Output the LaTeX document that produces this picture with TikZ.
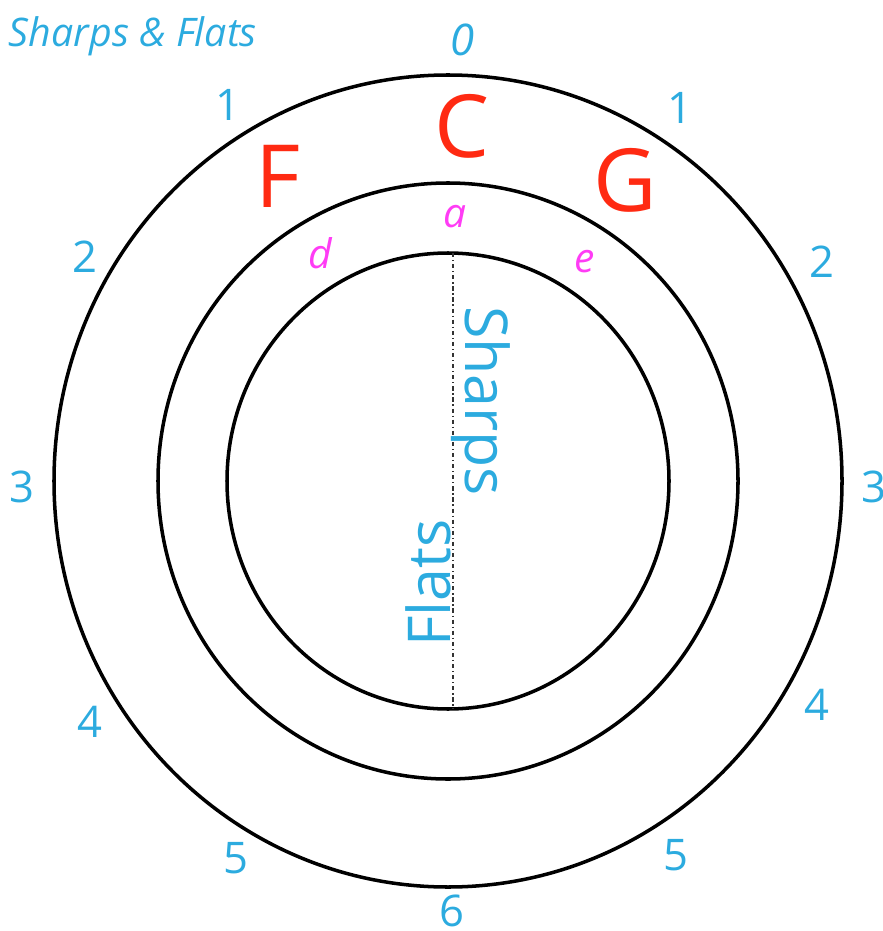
\documentclass[tikz,border=0pt]{standalone}
\usepackage{fontspec}
\setmainfont{Open Sans}
\usetikzlibrary{positioning}
\definecolor{skyblue}{HTML}{2CABDF}
\definecolor{keyred}{HTML}{FF2A12}
\definecolor{minorpink}{HTML}{FF3CF5}
\tikzset{
  ring/.style={draw=black, line width=2.5pt},
  count/.style={text=skyblue, font=\fontsize{31}{31}\selectfont, inner sep=0pt},
  major/.style={text=keyred, font=\fontsize{62}{62}\selectfont, inner sep=0pt},
  minor/.style={text=minorpink, font=\fontsize{29}{29}\selectfont\itshape, inner sep=0pt},
  side/.style={text=skyblue, font=\fontsize{42}{42}\selectfont, inner sep=0pt},
  divider/.style={draw=black!80, line width=0.9pt, dash dot},
}

\begin{document}
\begin{tikzpicture}[x=0.025cm, y=-0.025cm]
\useasboundingbox (0,0) rectangle (882,931);
\coordinate (hub) at (448,481);
\draw[ring] (hub) ellipse [x radius=394, y radius=406];
\draw[ring] (hub) ellipse [x radius=290, y radius=298];
\draw[ring] (hub) ellipse [x radius=221, y radius=228];
\coordinate (top) at (453,253);
\coordinate (bottom) at (453,709);
\draw[divider] (top) -- (bottom);
\node[text=skyblue, font=\fontsize{28}{28}\selectfont\itshape, inner sep=0pt] (title) at (133,36) {Sharps \& Flats};
\node[count, font=\fontsize{31}{31}\selectfont\itshape] (n0) at (462,40) {0};
\node[count] (n1l) at (228,105) {1};
\node[count] (n1r) at (680,108) {1};
\node[count] (n2l) at (85,257) {2};
\node[count] (n2r) at (822,262) {2};
\node[count] (n3l) at (22,487) {3};
\node[count] (n3r) at (874,487) {3};
\node[count] (n4l) at (90,722) {4};
\node[count] (n4r) at (817,705) {4};
\node[count] (n5l) at (236,858) {5};
\node[count] (n5r) at (676,855) {5};
\node[count] (n6) at (452,911) {6};
\node[major] (keyC) at (462,126) {C};
\node[major] (keyF) at (278,176) {F};
\node[major] (keyG) at (625,180) {G};
\node[minor] (mina) at (455,217) {a};
\node[minor] (mind) at (320,253) {d};
\node[minor] (mine) at (585,262) {e};
\node[side, rotate=-90] (sharps) at (481,401) {Sharps};
\node[side, rotate=90] (flats) at (428,583) {Flats};
\end{tikzpicture}
\end{document}
